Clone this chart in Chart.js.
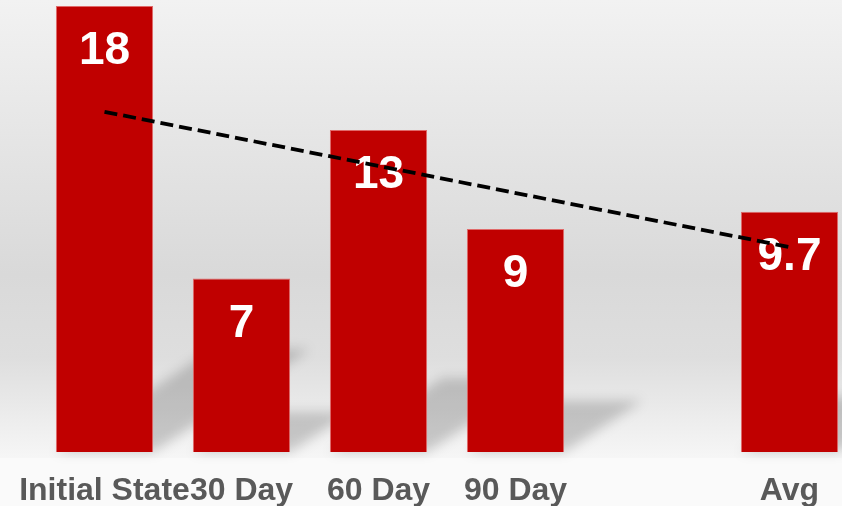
<!DOCTYPE html>
<html>
<head>
<meta charset="utf-8">
<script src="https://cdn.jsdelivr.net/npm/chart.js@4"></script>
<style>
  html, body { margin: 0; padding: 0; overflow: hidden; background: #fafafa; }
  #wrap { width: 858px; height: 506px; }
</style>
</head>
<body>
<div id="wrap"><canvas id="chart" width="858" height="506"></canvas></div>
<script>
// Categories (5th slot is an empty gap before the average)
const categories = ["Initial State", "30 Day", "60 Day", "90 Day", "", "Avg"];
const barValues = [18, 7, 13, 9, null, 9.7];
const barLabels = ["18", "7", "13", "9", "", "9.7"];

// Dashed trend line end points
const trendValues = [13.73, null, null, null, null, 8.27];

const ctx = document.getElementById("chart").getContext("2d");

// Gradient backdrop behind the plot
const backdrop = {
  id: "backdrop",
  beforeDraw(chart) {
    const c = chart.ctx;
    c.save();
    c.fillStyle = "#fafafa";
    c.fillRect(0, 0, chart.width, chart.height);
    const g = c.createLinearGradient(0, 0, 0, 458);
    g.addColorStop(0, "#f2f2f2");
    g.addColorStop(0.6, "#d9d9d9");
    g.addColorStop(0.78, "#dedede");
    g.addColorStop(1, "#f6f6f6");
    c.fillStyle = g;
    c.fillRect(0, 0, chart.width, 458);
    c.restore();
  },
};

// Soft perspective shadows cast up and to the right of each bar
const barShadows = {
  id: "barShadows",
  beforeDatasetsDraw(chart) {
    const c = chart.ctx;
    const meta = chart.getDatasetMeta(0);
    c.save();
    c.filter = "blur(6px)";
    c.fillStyle = "rgba(0,0,0,0.18)";
    meta.data.forEach((bar, i) => {
      if (barValues[i] == null) return;
      const x0 = bar.x - bar.width / 2;
      const x1 = bar.x + bar.width / 2;
      const b = bar.base;
      const h = b - bar.y;
      const dx = h * 0.35;
      const dy = h * 0.23;
      c.beginPath();
      c.moveTo(x0, b);
      c.lineTo(x1, b);
      c.lineTo(x1 + dx, b - dy);
      c.lineTo(x0 + dx, b - dy);
      c.closePath();
      c.fill();
    });
    c.restore();
  },
};

// White value labels inside the bars (drawn before the trend line)
const valueLabels = {
  id: "valueLabels",
  afterDatasetDraw(chart, args) {
    if (args.index !== 0) return;
    const c = chart.ctx;
    c.save();
    c.fillStyle = "#ffffff";
    c.font = "bold 46px 'Liberation Sans', Arial, sans-serif";
    c.textAlign = "center";
    c.textBaseline = "alphabetic";
    args.meta.data.forEach((bar, i) => {
      if (barValues[i] == null) return;
      c.fillText(barLabels[i], bar.x, bar.y + 58);
    });
    c.restore();
  },
};

new Chart(ctx, {
  type: "bar",
  data: {
    labels: categories,
    datasets: [
      {
        type: "bar",
        data: barValues,
        backgroundColor: "#c00000",
        borderColor: "#e06a6a",
        borderWidth: 1,
        grouped: false,
        barPercentage: 0.71,
        categoryPercentage: 1,
        order: 1,
      },
      {
        type: "line",
        data: trendValues,
        spanGaps: true,
        borderColor: "#000000",
        borderWidth: 3.8,
        borderDash: [13, 6],
        pointRadius: 0,
        fill: false,
        order: 0,
      },
    ],
  },
  options: {
    responsive: false,
    animation: false,
    layout: { padding: { left: 36, top: 6, right: 0, bottom: 0 } },
    plugins: {
      legend: { display: false },
      tooltip: { enabled: false },
    },
    scales: {
      x: {
        type: "category",
        offset: true,
        grid: { display: false, drawTicks: false },
        border: { display: false },
        afterFit(scale) {
          scale.height = 54;
          scale.paddingLeft = 0;
          scale.paddingRight = 0;
        },
        ticks: {
          color: "#595959",
          autoSkip: false,
          maxRotation: 0,
          padding: 20,
          font: { family: "'Liberation Sans', Arial, sans-serif", weight: "bold", size: 32 },
        },
      },
      y: { display: false, min: 0, max: 18 },
    },
  },
  plugins: [backdrop, barShadows, valueLabels],
});
</script>
</body>
</html>
